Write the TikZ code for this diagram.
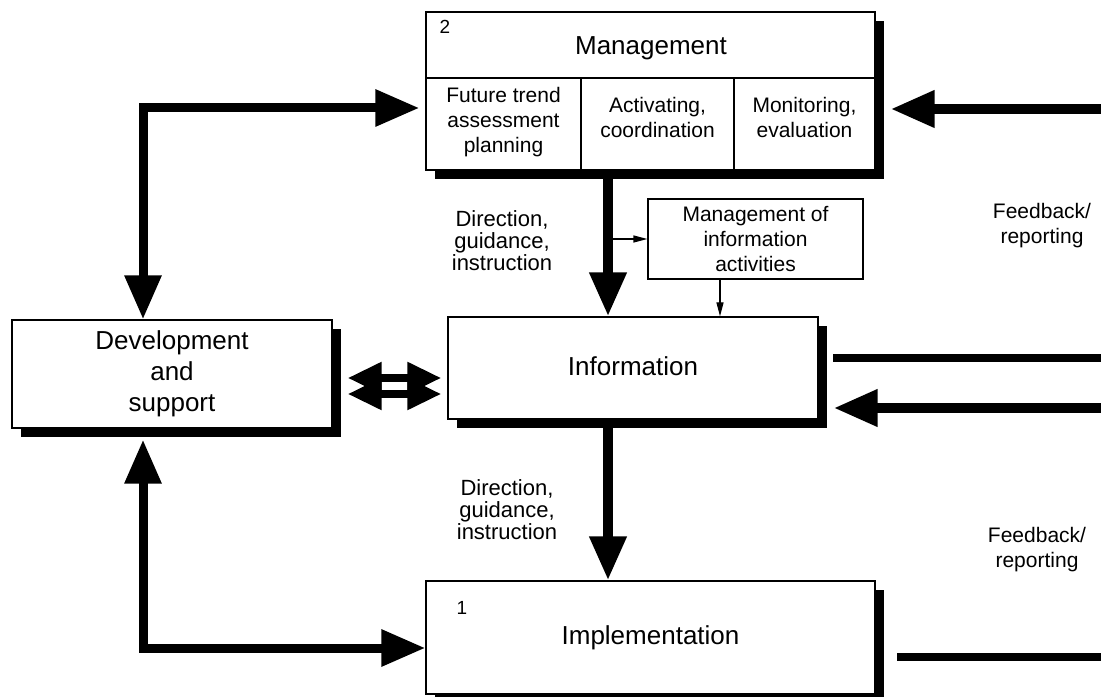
\documentclass[tikz,border=0pt]{standalone}
\usepackage{fontspec}
\setmainfont{Liberation Sans}
\usetikzlibrary{arrows.meta,calc,positioning,shadows}

\begin{document}
\begin{tikzpicture}[x=1pt,y=1pt,>=Latex,
  box/.style={draw,line width=0.6pt,fill=white,inner sep=0pt},
  shbox/.style={box,drop shadow={shadow xshift=4.5pt,shadow yshift=-4.5pt,fill=black,opacity=1}},
  lbl/.style={align=center,font=\fontsize{10.5}{12.5}\selectfont},
  dirlbl/.style={align=center,font=\fontsize{11}{11}\selectfont},
  big/.style={align=center,font=\fontsize{13}{15.5}\selectfont},
  num/.style={font=\fontsize{9.5}{10}\selectfont},
  fat/.style={line width=5pt,-{Triangle[length=22pt,width=17.5pt]}},
  fatboth/.style={line width=4.5pt,{Triangle[length=22pt,width=17.5pt]}-{Triangle[length=22pt,width=17.5pt]}},
  dbl/.style={line width=4pt,{Triangle[length=17pt,width=15pt]}-{Triangle[length=17pt,width=15pt]}},
  bar/.style={line width=4pt},
  thinarr/.style={line width=0.6pt,-{Triangle[length=7pt,width=3.5pt]}}]
  \useasboundingbox (0,0) rectangle (550.5,348);

  % management box with its three cells
  \node[shbox,minimum width=224.5pt,minimum height=79pt] (mgmt) at (325.25,302.5) {};
  \draw[line width=0.6pt] (213,309) -- (437.5,309) (290.5,263) -- (290.5,309) (367,263) -- (367,309);
  \node[num] (mgmtnum) at (222.5,334.5) {2};
  \node[big] (mgmttitle) at (325.5,324) {Management};
  \node[lbl] (plan) at (251.75,287) {Future trend\\assessment\\planning};
  \node[lbl] (coord) at (328.75,289.5) {Activating,\\coordination};
  \node[lbl] (eval) at (402.25,289.5) {Monitoring,\\evaluation};

  \node[box,lbl,minimum width=107.5pt,minimum height=40pt] (infomgmt) at (377.75,228.5) {Management of\\information\\activities};
  \node[shbox,big,minimum width=185pt,minimum height=51pt] (info) at (316.5,164) {\raisebox{1.5pt}{Information}};
  \node[shbox,big,minimum width=160pt,minimum height=54pt] (dev) at (86,161) {Development\\and\\support};
  \node[shbox,big,minimum width=224.5pt,minimum height=56.5pt] (impl) at (325.25,29.25) {Implementation};
  \node[num] (implnum) at (231,44) {1};

  % downward chain
  \coordinate (spine) at (304,0);
  \draw[fat] (mgmt.south -| spine) -- (info.north -| spine);
  \draw[fat] (info.south -| spine) -- (impl.north -| spine);
  \draw[thinarr] (infomgmt.west -| spine) -- (infomgmt.west);
  \draw[thinarr] ([xshift=-17.75pt]infomgmt.south) -- ([xshift=-17.75pt]infomgmt.south |- info.north);

  % development and support links
  \coordinate (lbus) at (71.5,0);
  \draw[fatboth,shorten >=3pt] (dev.north -| lbus) |- ([yshift=-8.5pt]mgmt.west);
  \draw[fatboth,shorten <=5.5pt] (dev.south -| lbus) |- ([yshift=-5.25pt]impl.west);
  \draw[dbl,shorten <=7.5pt,shorten >=3pt] ([yshift=-2pt]dev.east) -- ([yshift=-2pt]dev.east -| info.west);
  \draw[dbl,shorten <=7.5pt,shorten >=3pt] ([yshift=-10pt]dev.east) -- ([yshift=-10pt]dev.east -| info.west);

  % feedback from the right
  \coordinate (fbtop) at (550.5,293.5);
  \coordinate (fbinfo) at (550.5,169);
  \coordinate (fbin) at (550.5,144);
  \coordinate (fbimpl) at (550.5,19.5);
  \draw[fat,shorten >=7.5pt] (fbtop) -- (fbtop -| mgmt.east);
  \draw[bar,shorten >=7pt] (fbinfo) -- (fbinfo -| info.east);
  \draw[fat,shorten >=7.5pt] (fbin) -- (fbin -| info.east);
  \draw[bar,shorten >=10.5pt] (fbimpl) -- (fbimpl -| impl.east);

  \node[dirlbl] (dir1) at (251,227.5) {Direction,\\guidance,\\instruction};
  \node[dirlbl] (dir2) at (253.5,93) {Direction,\\guidance,\\instruction};
  \node[lbl] (fb1) at (521,235) {Feedback/\\reporting};
  \node[lbl] (fb2) at (518.5,73) {Feedback/\\reporting};
\end{tikzpicture}
\end{document}
